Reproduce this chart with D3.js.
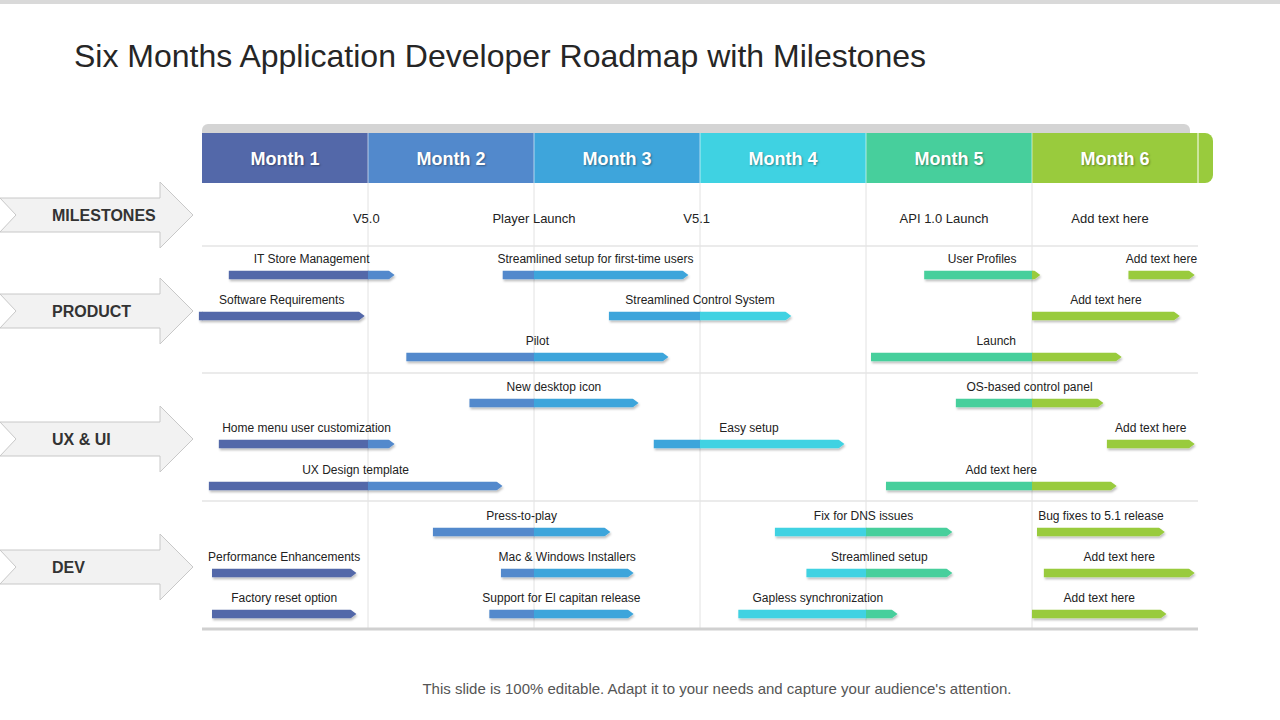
<!DOCTYPE html><html><head><meta charset="utf-8"><script src="https://cdn.jsdelivr.net/npm/d3@7"></script>
<style>body{margin:0;background:#fff}svg{font-family:Arial,"Liberation Sans",sans-serif}</style></head><body><svg id="c" width="1280" height="720"></svg><script>
const months=["Month 1","Month 2","Month 3","Month 4","Month 5","Month 6"];
const monthColors=["#5368a9","#5289cc","#3ea5db","#3fd2e2","#47cf9c","#99cb3d"];
const sections=["MILESTONES","PRODUCT","UX & UI","DEV"];
const milestoneLabels=["V5.0","Player Launch","V5.1","API 1.0 Launch","Add text here"];
const milestonePos=[0.99,2.0,2.98,4.47,5.47];
// tasks: section, row, start month, end month, label
const taskSection=[1,1,1,1,1,1,1,1,1, 2,2,2,2,2,2,2, 3,3,3,3,3,3,3,3,3,3,3];
const taskRow=[0,0,0,0,1,1,1,2,2, 0,0,1,1,1,2,2, 0,0,0,1,1,1,1,2,2,2,2];
const taskStart=[0.16,1.81,4.35,5.58,-0.02,2.45,5.0,1.23,4.03, 1.61,4.54,0.1,2.72,5.45,0.04,4.12, 1.39,3.45,5.03,0.06,1.8,3.64,5.07,0.06,1.73,3.23,5.0];
const taskEnd=[1.16,2.93,5.05,5.98,0.98,3.55,5.89,2.81,5.54, 2.63,5.43,1.16,3.87,5.98,1.81,5.51, 2.46,4.52,5.8,0.93,2.6,4.52,5.98,0.93,2.6,4.19,5.81];
const taskLabel=["IT Store Management","Streamlined setup for first-time users","User Profiles","Add text here","Software Requirements","Streamlined Control System","Add text here","Pilot","Launch",
"New desktop icon","OS-based control panel","Home menu user customization","Easy setup","Add text here","UX Design template","Add text here",
"Press-to-play","Fix for DNS issues","Bug fixes to 5.1 release","Performance Enhancements","Mac & Windows Installers","Streamlined setup","Add text here","Factory reset option","Support for El capitan release","Gapless synchronization","Add text here"];

const svg=d3.select("#c");
const x=d3.scaleLinear().domain([0,6]).range([202,1198]);
const secTop=[183,246,373,501], secBot=[246,373,501,629];
const rowY=(s,r)=>[[275,316,357],[403,444,486],[532,573,614]][s-1][r];

svg.append("rect").attr("x",0).attr("y",0).attr("width",1280).attr("height",4).attr("fill","#d9d9d9");
svg.append("text").attr("x",74).attr("y",67).attr("font-size",32).attr("fill","#262626").text("Six Months Application Developer Roadmap with Milestones");

// header
svg.append("rect").attr("x",202).attr("y",124).attr("width",988).attr("height",20).attr("rx",6).attr("fill","#d4d4d4");
svg.append("rect").attr("x",x(5)).attr("y",133).attr("width",1213-x(5)).attr("height",50).attr("rx",8).attr("fill",monthColors[5]);
months.forEach((m,i)=>{
  svg.append("rect").attr("x",x(i)).attr("y",133).attr("width",(i==5?x(6)-x(5)-1:x(i+1)-x(i))).attr("height",50).attr("fill",monthColors[i]);
  if(i>0) svg.append("line").attr("x1",x(i)).attr("x2",x(i)).attr("y1",133).attr("y2",183).attr("stroke","#fff").attr("stroke-opacity",0.6);
  svg.append("text").attr("x",(x(i)+x(i+1))/2).attr("y",165).attr("text-anchor","middle").attr("font-size",18).attr("font-weight","bold").attr("fill","#fff")
    .style("text-shadow","1px 1px 2px rgba(0,0,0,0.35)").text(m);
});
svg.append("line").attr("x1",x(6)).attr("x2",x(6)).attr("y1",133).attr("y2",183).attr("stroke","#fff");

// grid
d3.range(1,6).forEach(i=>svg.append("line").attr("x1",x(i)).attr("x2",x(i)).attr("y1",183).attr("y2",629).attr("stroke","#e2e2e2"));
secBot.forEach((b,i)=>svg.append("line").attr("x1",202).attr("x2",1198).attr("y1",b).attr("y2",b).attr("stroke",i==3?"#d0d0d0":"#e4e4e4").attr("stroke-width",i==3?3:1.5));

// section arrows
const centers=[215,311,439,567];
sections.forEach((s,i)=>{
  const c=centers[i];
  const p=`M0,${c-17} L160,${c-17} L160,${c-33} L193,${c} L160,${c+33} L160,${c+17} L0,${c+17} L16,${c} Z`;
  svg.append("path").attr("d",p).attr("fill","#f2f2f2").attr("stroke","#c8c8c8");
  svg.append("text").attr("x",52).attr("y",c+6).attr("font-size",16).attr("font-weight","bold").attr("fill","#333").text(s);
});

// milestones
milestoneLabels.forEach((t,i)=>svg.append("text").attr("x",x(milestonePos[i])).attr("y",223).attr("text-anchor","middle").attr("font-size",13).attr("fill","#222").text(t));

// tasks
const defs=svg.append("defs");
const f=defs.append("filter").attr("id","sh").attr("x","-5%").attr("y","-50%").attr("width","110%").attr("height","250%");
f.append("feDropShadow").attr("dx",1).attr("dy",2).attr("stdDeviation",1.2).attr("flood-color","#000").attr("flood-opacity",0.25);
taskLabel.forEach((t,i)=>{
  const y=rowY(taskSection[i],taskRow[i]);
  const x0=x(taskStart[i]), x1=x(taskEnd[i]), h=9, tip=6;
  const g=svg.append("g").attr("filter","url(#sh)");
  const clipId="cl"+i;
  defs.append("clipPath").attr("id",clipId).append("path")
    .attr("d",`M${x0},${y-h/2} L${x1-tip},${y-h/2} L${x1},${y} L${x1-tip},${y+h/2} L${x0},${y+h/2} Z`);
  const gg=g.append("g").attr("clip-path",`url(#${clipId})`);
  d3.range(6).forEach(m=>{
    const a=Math.max(x0,x(m)), b=Math.min(x1,x(m+1)+(m==5?20:0));
    if(b>a) gg.append("rect").attr("x",a).attr("y",y-h/2).attr("width",b-a+0.5).attr("height",h).attr("fill",monthColors[m]);
  });
  if(x0<x(0)) gg.append("rect").attr("x",x0).attr("y",y-h/2).attr("width",x(0)-x0+0.5).attr("height",h).attr("fill",monthColors[0]);
  svg.append("text").attr("x",(x0+x1)/2).attr("y",y-12).attr("text-anchor","middle").attr("font-size",12).attr("fill","#222").text(t);
});

svg.append("text").attr("x",717).attr("y",694).attr("text-anchor","middle").attr("font-size",15).attr("fill","#555").text("This slide is 100% editable. Adapt it to your needs and capture your audience's attention.");
</script></body></html>
